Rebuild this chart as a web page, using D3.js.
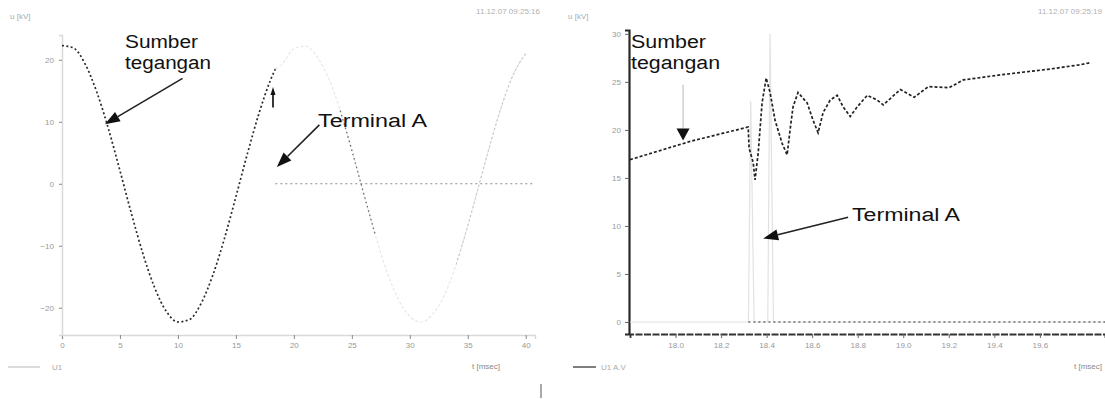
<!DOCTYPE html>
<html>
<head>
<meta charset="utf-8">
<script src="https://cdn.jsdelivr.net/npm/d3@7"></script>
<style>
  html, body { margin: 0; background: #fff; }
  svg { display: block; font-family: Arial, "Liberation Sans", sans-serif; }
</style>
</head>
<body>
<svg id="chart" width="1105" height="399"></svg>
<script>
// ---------- Panel 1: whole switching event, t in ms, u in kV ----------
const leftTime   = [0, 1, 2, 3, 4, 5, 6, 7, 8, 9, 10, 11, 12, 13, 14, 15, 16, 17, 18, 18.4];
const leftSource = [22.3, 21.9, 19.3, 14.8, 8.9, 2.1, -4.9, -11.4, -16.8, -20.6, -22.3, -21.9, -19.3, -14.8, -8.9, -2.1, 4.9, 11.4, 16.8, 18.5];

// faint trace of the source after the switch opens
const leftGhostTime = [18.4, 19, 20, 21, 22, 23, 24, 25, 26, 27, 28, 29, 30, 31, 32, 33, 34, 35, 36, 37, 38, 39, 40];
const leftGhost     = [18.5, 19.3, 21.8, 22.2, 20.5, 17.0, 11.8, 5.4, -1.4, -8.1, -14.0, -18.6, -21.4, -22.3, -21.0, -17.9, -13.0, -6.8, 0.0, 6.8, 13.0, 17.9, 21.0];

const leftTerminalTime = [18.4, 40.8];
const leftTerminal     = [0, 0];

const leftXTicks = [0, 5, 10, 15, 20, 25, 30, 35, 40];
const leftYTicks = [-20, -10, 0, 10, 20];

// ---------- Panel 2: detail around the switching instant ----------
const rightTime   = [17.800, 18.064, 18.319, 18.323, 18.341, 18.349, 18.363, 18.380, 18.398, 18.415, 18.437, 18.468, 18.490, 18.503, 18.516, 18.538, 18.578, 18.604, 18.626, 18.648, 18.679, 18.710, 18.736, 18.767, 18.798, 18.842, 18.886, 18.912, 18.987, 19.048, 19.110, 19.202, 19.264, 19.418, 19.523, 19.633, 19.782, 19.822];
const rightSource = [16.9, 18.8, 20.3, 18.1, 16.6, 14.8, 17.6, 22.8, 25.4, 23.9, 21.0, 18.6, 17.4, 20.0, 22.4, 23.9, 22.8, 21.0, 19.7, 21.8, 23.1, 23.6, 22.4, 21.4, 22.4, 23.6, 23.1, 22.6, 24.2, 23.4, 24.5, 24.4, 25.2, 25.7, 26.0, 26.3, 26.8, 27.0];

const rightTerminalTime = [17.800, 18.320, 18.330, 18.345, 18.405, 18.415, 18.430, 19.886];
const rightTerminal     = [0, 0, 23.0, 0, 0, 30.0, 0, 0];

const rightXTicks = [18.0, 18.2, 18.4, 18.6, 18.8, 19.0, 19.2, 19.4, 19.6];
const rightYTicks = [0, 5, 10, 15, 20, 25, 30];

const svg = d3.select("#chart");

// arrow with a filled triangular head
function arrow(g, x1, y1, x2, y2, opt = {}) {
  const len = opt.len || 13, wid = opt.wid || 9;
  const a = Math.atan2(y2 - y1, x2 - x1);
  const bx = x2 - len * Math.cos(a), by = y2 - len * Math.sin(a);
  g.append("line")
    .attr("x1", x1).attr("y1", y1).attr("x2", bx).attr("y2", by)
    .attr("stroke", opt.shaft || "#222").attr("stroke-width", opt.sw || 1.6)
    .attr("stroke-dasharray", opt.dash || null);
  const px = -Math.sin(a) * wid / 2, py = Math.cos(a) * wid / 2;
  g.append("path")
    .attr("d", `M${x2},${y2}L${bx + px},${by + py}L${bx - px},${by - py}Z`)
    .attr("fill", "#111");
}

// ======================= LEFT PANEL =======================
{
  const g = svg.append("g");
  const x = d3.scaleLinear().domain([0, 40.8]).range([62, 535]);
  const y = d3.scaleLinear().domain([-24.4, 24.0]).range([335, 35]);

  const xAxis = g.append("g").attr("transform", "translate(0,335)")
    .call(d3.axisBottom(x).tickValues(leftXTicks).tickSize(4).tickPadding(3).tickFormat(d3.format("d")));
  const yAxis = g.append("g").attr("transform", "translate(62,0)")
    .call(d3.axisLeft(y).tickValues(leftYTicks).tickSize(3).tickPadding(5).tickFormat(d3.format("d")));
  [xAxis, yAxis].forEach(a => {
    a.select(".domain").attr("stroke", "#d8d8d8").attr("stroke-width", 1.4);
    a.selectAll(".tick line").attr("stroke", "#888");
    a.selectAll(".tick text").attr("fill", "#999").attr("font-size", 8);
  });

  const line = d3.line().x(d => x(d[0])).y(d => y(d[1])).curve(d3.curveMonotoneX);

  const ghost = leftGhostTime.map((t, i) => [t, leftGhost[i]]);
  g.append("path").datum(ghost).attr("d", line)
    .attr("fill", "none").attr("stroke", "#e6e6e6").attr("stroke-width", 1.1)
    .attr("stroke-dasharray", "3,2");
  g.append("path").datum(ghost.filter(d => d[0] >= 34 && d[0] <= 40)).attr("d", line)
    .attr("fill", "none").attr("stroke", "#c4c4c4").attr("stroke-width", 1.1)
    .attr("stroke-dasharray", "2,2.5");
  g.append("path").datum(ghost.filter(d => d[0] >= 24 && d[0] <= 27.5)).attr("d", line)
    .attr("fill", "none").attr("stroke", "#6a6a6a").attr("stroke-width", 1.3)
    .attr("stroke-dasharray", "1.5,3");

  const term = leftTerminalTime.map((t, i) => [t, leftTerminal[i]]);
  g.append("path").datum(term).attr("d", line)
    .attr("fill", "none").attr("stroke", "#8a8a8a").attr("stroke-width", 1.2)
    .attr("stroke-dasharray", "2,3");

  const src = leftTime.map((t, i) => [t, leftSource[i]]);
  g.append("path").datum(src).attr("d", line)
    .attr("fill", "none").attr("stroke", "#2a2a2a").attr("stroke-width", 1.7)
    .attr("stroke-dasharray", "2,2.4");

  // annotations
  g.append("text").attr("x", 125).attr("y", 48).attr("font-size", 18).attr("fill", "#111")
    .attr("textLength", 73).attr("lengthAdjust", "spacingAndGlyphs").text("Sumber");
  g.append("text").attr("x", 125).attr("y", 69).attr("font-size", 18).attr("fill", "#111")
    .attr("textLength", 86).attr("lengthAdjust", "spacingAndGlyphs").text("tegangan");
  arrow(g, x(10.4), y(17.0), x(3.7), y(9.6), { len: 15, wid: 11 });

  g.append("text").attr("x", 318).attr("y", 127).attr("font-size", 18).attr("fill", "#111")
    .attr("textLength", 109).attr("lengthAdjust", "spacingAndGlyphs").text("Terminal  A");
  arrow(g, x(22.2), y(9.5), x(18.53), y(2.7), { len: 15, wid: 11 });
  arrow(g, x(18.2), y(12.3), x(18.2), y(15.6), { len: 8, wid: 5, sw: 1.8 });

  g.append("text").attr("x", 10).attr("y", 19).attr("font-size", 8).attr("fill", "#aaa").text("u [kV]");
  g.append("text").attr("x", 540).attr("y", 14).attr("font-size", 8).attr("fill", "#b0b0b0")
    .attr("text-anchor", "end").text("11.12.07  09:25:16");
  g.append("text").attr("x", 500).attr("y", 369).attr("font-size", 8).attr("fill", "#888")
    .attr("text-anchor", "end").text("t [msec]");
  g.append("line").attr("x1", 8).attr("x2", 40).attr("y1", 367).attr("y2", 367)
    .attr("stroke", "#d0d0d0").attr("stroke-width", 1.5);
  g.append("text").attr("x", 52).attr("y", 370).attr("font-size", 8).attr("fill", "#aaa").text("U1");
  g.append("line").attr("x1", 541).attr("x2", 541).attr("y1", 384).attr("y2", 398)
    .attr("stroke", "#555").attr("stroke-width", 1);
}

// ======================= RIGHT PANEL =======================
{
  const g = svg.append("g");
  const x = d3.scaleLinear().domain([17.8, 19.886]).range([630, 1105]);
  const y = d3.scaleLinear().domain([-1.25, 30.4]).range([334, 30]);

  const xAxis = g.append("g").attr("transform", "translate(0,334)")
    .call(d3.axisBottom(x).tickValues(rightXTicks).tickSize(4).tickPadding(4).tickFormat(d3.format(".1f")));
  const yAxis = g.append("g").attr("transform", "translate(629,0)")
    .call(d3.axisLeft(y).tickValues(rightYTicks).tickSize(4).tickPadding(4).tickFormat(d3.format("d")));
  xAxis.select(".domain").attr("stroke", "#333").attr("stroke-width", 1.8).attr("stroke-dasharray", "7,1.5");
  yAxis.select(".domain").attr("stroke", "#2a2a2a").attr("stroke-width", 2.2);
  [xAxis, yAxis].forEach(a => {
    a.selectAll(".tick line").attr("stroke", "#666");
    a.selectAll(".tick text").attr("fill", "#999").attr("font-size", 8);
  });

  const line = d3.line().x(d => x(d[0])).y(d => y(d[1]));

  const term = rightTerminalTime.map((t, i) => [t, rightTerminal[i]]);
  g.append("path").datum(term).attr("d", line)
    .attr("fill", "none").attr("stroke", "#e2e2e2").attr("stroke-width", 1.2);
  g.append("path").datum(term.filter(d => d[0] >= 18.32 && d[1] === 0)).attr("d", line)
    .attr("fill", "none").attr("stroke", "#6e6e6e").attr("stroke-width", 1.3)
    .attr("stroke-dasharray", "2,3");

  const src = rightTime.map((t, i) => [t, rightSource[i]]);
  g.append("path").datum(src).attr("d", line)
    .attr("fill", "none").attr("stroke", "#222").attr("stroke-width", 1.7)
    .attr("stroke-dasharray", "3,2");

  // annotations
  g.append("text").attr("x", 631).attr("y", 48).attr("font-size", 18).attr("fill", "#111")
    .attr("textLength", 75).attr("lengthAdjust", "spacingAndGlyphs").text("Sumber");
  g.append("text").attr("x", 631).attr("y", 69).attr("font-size", 18).attr("fill", "#111")
    .attr("textLength", 89).attr("lengthAdjust", "spacingAndGlyphs").text("tegangan");
  arrow(g, x(18.033), y(29.4) + 45, x(18.033), y(18.9), { len: 12, wid: 13, shaft: "#c4c4c4", sw: 1.2 });

  g.append("text").attr("x", 852).attr("y", 221).attr("font-size", 18).attr("fill", "#111")
    .attr("textLength", 108).attr("lengthAdjust", "spacingAndGlyphs").text("Terminal  A");
  arrow(g, x(18.758), y(10.9), x(18.385), y(8.7), { len: 15, wid: 11 });

  g.append("text").attr("x", 568).attr("y", 19).attr("font-size", 8).attr("fill", "#aaa").text("u [kV]");
  g.append("text").attr("x", 1102).attr("y", 14).attr("font-size", 8).attr("fill", "#b0b0b0")
    .attr("text-anchor", "end").text("11.12.07  09:25:19");
  g.append("text").attr("x", 1102).attr("y", 369).attr("font-size", 8).attr("fill", "#888")
    .attr("text-anchor", "end").text("t [msec]");
  g.append("line").attr("x1", 573).attr("x2", 596).attr("y1", 367).attr("y2", 367)
    .attr("stroke", "#555").attr("stroke-width", 1.5);
  g.append("text").attr("x", 601).attr("y", 370).attr("font-size", 8).attr("fill", "#aaa").text("U1 A.V");
}
</script>
</body>
</html>
